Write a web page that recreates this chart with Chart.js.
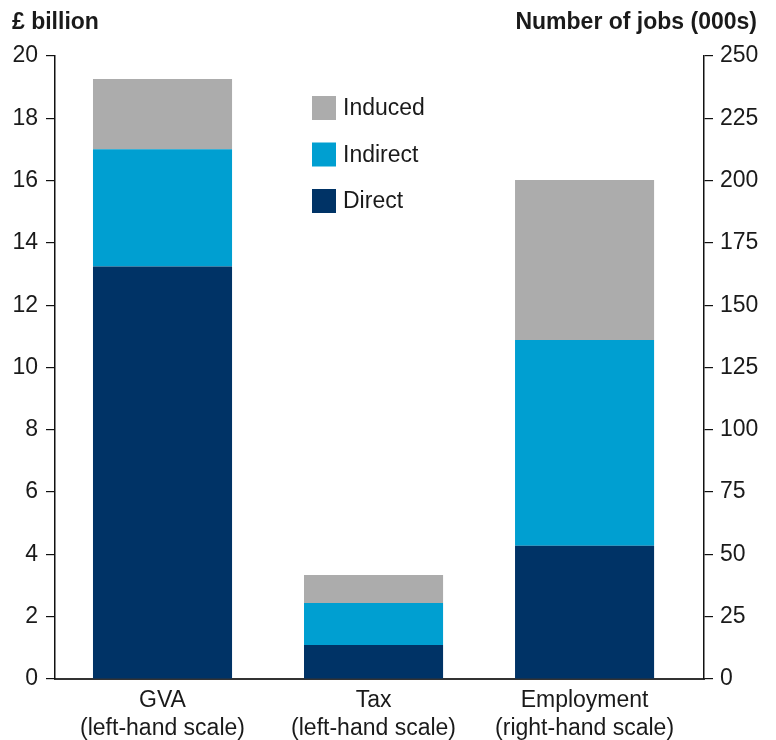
<!DOCTYPE html>
<html>
<head>
<meta charset="utf-8">
<script src="https://cdn.jsdelivr.net/npm/chart.js@4"></script>
<style>
  html, body { margin: 0; padding: 0; background: #fff; }
  #wrap { width: 776px; height: 740px; position: relative; }
</style>
</head>
<body>
<div id="wrap"><canvas id="c" width="776" height="740"></canvas></div>
<script>
// ---- data ----
const categories = ['GVA', 'Tax', 'Employment'];
const categoryNotes = ['(left-hand scale)', '(left-hand scale)', '(right-hand scale)'];
const seriesNames = ['Direct', 'Indirect', 'Induced'];
// £ billion (left-hand scale): GVA, Tax
const directBn = [13.24, 1.09];
const indirectBn = [3.77, 1.35];
const inducedBn = [2.25, 0.90];
// Number of jobs, 000s (right-hand scale): Employment
const directJobs = [53.5];
const indirectJobs = [82.5];
const inducedJobs = [64.2];
const leftTicks = [0, 2, 4, 6, 8, 10, 12, 14, 16, 18, 20];
const rightTicks = [0, 25, 50, 75, 100, 125, 150, 175, 200, 225, 250];
const leftTitle = '£ billion';
const rightTitle = 'Number of jobs (000s)';

const colors = { Direct: '#003366', Indirect: '#009fd1', Induced: '#acacac' };
const FONT = "'Liberation Sans', Arial, Helvetica, sans-serif";
const TEXT = '#1a1a1a';
const FS = 23;

function pts(values, startIdx) {
  return values.map((v, i) => ({ x: startIdx + i, y: v }));
}

const datasets = [];
const leftSeries = { Direct: directBn, Indirect: indirectBn, Induced: inducedBn };
const rightSeries = { Direct: directJobs, Indirect: indirectJobs, Induced: inducedJobs };
seriesNames.forEach(name => {
  datasets.push({ label: name, data: pts(leftSeries[name], 0), backgroundColor: colors[name], yAxisID: 'y', borderWidth: 0 });
});
seriesNames.forEach(name => {
  datasets.push({ label: name, data: pts(rightSeries[name], 2), backgroundColor: colors[name], yAxisID: 'y2', borderWidth: 0 });
});

const overlay = {
  id: 'overlay',
  afterDraw(chart) {
    const ctx = chart.ctx;
    ctx.save();
    ctx.fillStyle = TEXT;
    ctx.font = 'bold ' + FS + 'px ' + FONT;
    ctx.textBaseline = 'alphabetic';
    ctx.textAlign = 'left';
    ctx.fillText(leftTitle, 12, 29);
    ctx.textAlign = 'right';
    ctx.fillText(rightTitle, 757, 29);
    // legend (top to bottom: Induced, Indirect, Direct)
    const order = seriesNames.slice().reverse();
    ctx.font = FS + 'px ' + FONT;
    ctx.textAlign = 'left';
    ctx.textBaseline = 'middle';
    order.forEach((name, i) => {
      const y = 96 + i * 46.5;
      ctx.fillStyle = colors[name];
      ctx.fillRect(312, y, 24, 24);
      ctx.fillStyle = TEXT;
      ctx.fillText(name, 343, y + 13);
    });
    ctx.restore();
  }
};

new Chart(document.getElementById('c'), {
  type: 'bar',
  data: { datasets },
  plugins: [overlay],
  options: {
    responsive: false,
    animation: false,
    devicePixelRatio: 1,
    layout: { padding: { top: 56, left: 0, right: 0, bottom: 0 } },
    plugins: { legend: { display: false }, tooltip: { enabled: false } },
    datasets: { bar: { barPercentage: 0.659, categoryPercentage: 1 } },
    scales: {
      x: {
        type: 'linear',
        offset: false,
        stacked: true,
        min: -0.5095,
        max: 2.566,
        afterBuildTicks(scale) { scale.ticks = categories.map((c, i) => ({ value: i })); },
        afterFit(scale) { scale.height = 61; },
        grid: { display: false, drawTicks: false, offset: false },
        border: { display: true, color: '#333333', width: 2 },
        ticks: {
          padding: 7,
          color: TEXT,
          font: { family: FONT, size: FS, lineHeight: 1.24 },
          maxRotation: 0,
          autoSkip: false,
          callback(v) { const i = Math.round(v); return [categories[i], categoryNotes[i]]; }
        }
      },
      y: {
        position: 'left',
        stacked: true,
        min: leftTicks[0],
        max: leftTicks[leftTicks.length - 1],
        afterBuildTicks(scale) { scale.ticks = leftTicks.map(v => ({ value: v })); },
        afterFit(scale) { scale.width = 55; },
        grid: { drawOnChartArea: false, drawTicks: true, tickLength: 9, color: '#111111', lineWidth: 1.2 },
        border: { display: true, color: '#111111', width: 1.5 },
        ticks: { padding: 8, color: TEXT, font: { family: FONT, size: FS } }
      },
      y2: {
        position: 'right',
        stacked: true,
        min: rightTicks[0],
        max: rightTicks[rightTicks.length - 1],
        afterBuildTicks(scale) { scale.ticks = rightTicks.map(v => ({ value: v })); },
        afterFit(scale) { scale.width = 72; },
        grid: { drawOnChartArea: false, drawTicks: true, tickLength: 9, color: '#111111', lineWidth: 1.2 },
        border: { display: true, color: '#111111', width: 1.5 },
        ticks: { padding: 7, color: TEXT, font: { family: FONT, size: FS } }
      }
    }
  }
});
</script>
</body>
</html>
